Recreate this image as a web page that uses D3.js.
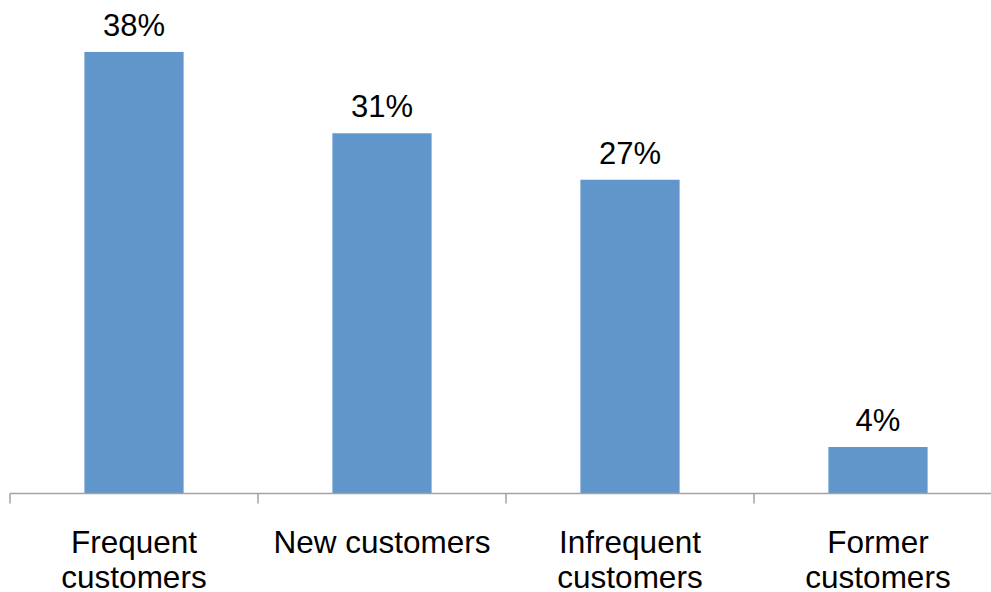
<!DOCTYPE html>
<html>
<head>
<meta charset="utf-8">
<script src="https://cdn.jsdelivr.net/npm/d3@7"></script>
<style>
  html, body { margin: 0; padding: 0; background: #fff; }
  svg { display: block; font-family: "Liberation Sans", Arial, sans-serif; }
</style>
</head>
<body>
<svg id="chart" width="991" height="592"></svg>
<script>
// Customer segments and their share (%)
const categories = [
  ["Frequent", "customers"],
  ["New customers"],
  ["Infrequent", "customers"],
  ["Former", "customers"]
];
const categoryKeys = ["Frequent customers", "New customers", "Infrequent customers", "Former customers"];
const values = [38, 31, 27, 4];

const svg = d3.select("#chart");
const baseline = 493.5;
const pxPerPct = 11.62;

const x = d3.scaleBand()
  .domain(categoryKeys)
  .range([10, 1002])
  .paddingInner(0.6)
  .paddingOuter(0.3);

const y = d3.scaleLinear()
  .domain([0, 40])
  .range([baseline, baseline - 40 * pxPerPct]);

// Bars
svg.append("g")
  .selectAll("rect")
  .data(values)
  .join("rect")
  .attr("x", (d, i) => x(categoryKeys[i]))
  .attr("y", d => y(d))
  .attr("width", x.bandwidth())
  .attr("height", d => y(0) - y(d))
  .attr("fill", "#6096CA");

// Value labels
svg.append("g")
  .selectAll("text")
  .data(values)
  .join("text")
  .attr("x", (d, i) => x(categoryKeys[i]) + x.bandwidth() / 2)
  .attr("y", d => y(d) - 16)
  .attr("text-anchor", "middle")
  .attr("font-size", "31px")
  .attr("fill", "#000")
  .text(d => d + "%");

// Category axis with ticks between bands
const axisG = svg.append("g").attr("stroke", "#a3a3a3").attr("stroke-width", 1.5);
axisG.append("line")
  .attr("x1", 10).attr("x2", 991)
  .attr("y1", baseline).attr("y2", baseline);
const boundaries = d3.range(categoryKeys.length + 1).map(i => 10 + i * (992 / categoryKeys.length));
axisG.selectAll("line.tick")
  .data(boundaries)
  .join("line")
  .attr("class", "tick")
  .attr("x1", d => d).attr("x2", d => d)
  .attr("y1", baseline).attr("y2", baseline + 10);

// Category labels
const labels = svg.append("g")
  .selectAll("text")
  .data(categories)
  .join("text")
  .attr("x", (d, i) => x(categoryKeys[i]) + x.bandwidth() / 2)
  .attr("y", 553)
  .attr("text-anchor", "middle")
  .attr("font-size", "31.5px")
  .attr("fill", "#000");
labels.selectAll("tspan")
  .data(d => d)
  .join("tspan")
  .attr("x", function () { return d3.select(this.parentNode).attr("x"); })
  .attr("dy", (d, i) => i === 0 ? 0 : 35)
  .text(d => d);
</script>
</body>
</html>
